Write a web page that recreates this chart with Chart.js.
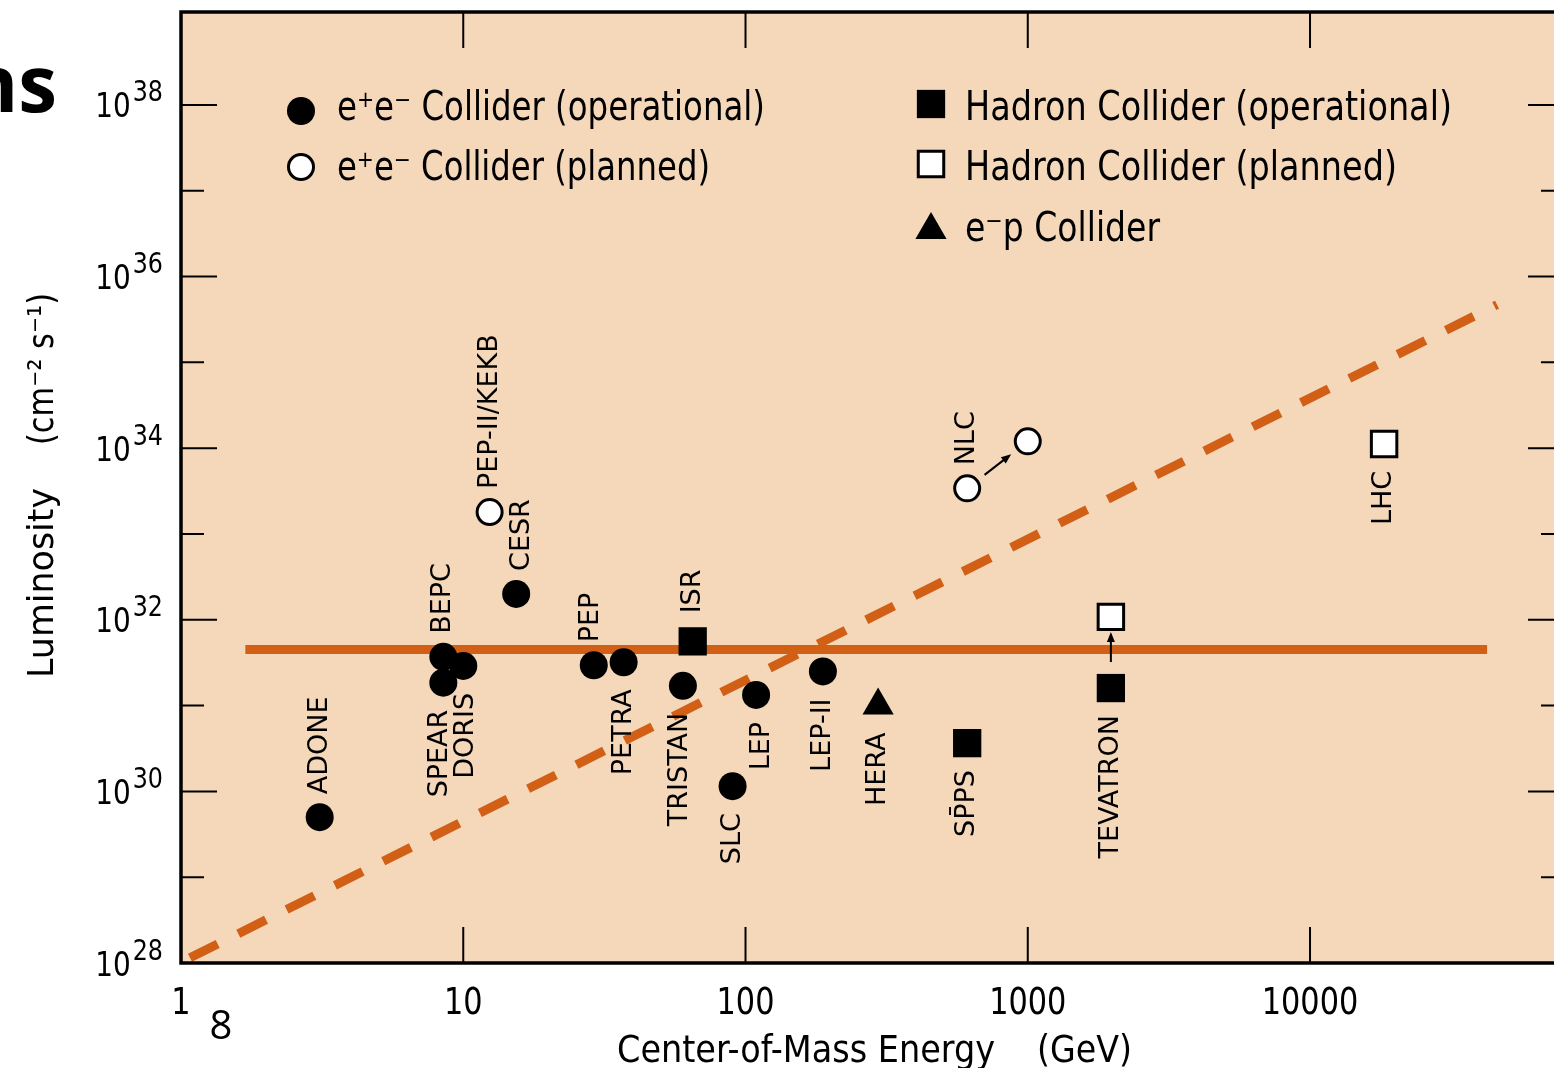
<!DOCTYPE html>
<html>
<head>
<meta charset="utf-8">
<title>Collider luminosity</title>
<script src="https://cdn.jsdelivr.net/npm/chart.js@4.4.0/dist/chart.umd.min.js"></script>
<style>
  html, body { margin: 0; padding: 0; background: #fff; overflow: hidden; }
  canvas { display: block; }
</style>
</head>
<body>
<canvas id="lumiChart" width="1580" height="1068"></canvas>
<script>
// ---- data (energy in GeV, luminosity in cm^-2 s^-1) ----
var eeOpNames  = ['ADONE', 'SPEAR', 'DORIS', 'BEPC', 'CESR', 'PEP', 'PETRA', 'TRISTAN', 'SLC', 'LEP', 'LEP-II'];
var eeOpEnergy = [3.1, 8.5, 10, 8.5, 15.4, 29, 37, 60, 90, 109, 188];
var eeOpLumi   = [5.0e29, 1.85e31, 2.9e31, 3.7e31, 2.0e32, 2.95e31, 3.2e31, 1.7e31, 1.15e30, 1.33e31, 2.5e31];

var eePlanNames  = ['PEP-II/KEKB', 'NLC', ''];
var eePlanEnergy = [12.4, 610, 1000];
var eePlanLumi   = [1.8e33, 3.4e33, 1.2e34];

var hadOpNames  = ['ISR', 'SP\u0304PS', 'TEVATRON'];
var hadOpEnergy = [65, 610, 1970];
var hadOpLumi   = [5.6e31, 3.65e30, 1.6e31];

var hadPlanNames  = ['', 'LHC'];
var hadPlanEnergy = [1970, 18300];
var hadPlanLumi   = [1.08e32, 1.12e34];

var epNames  = ['HERA'];
var epEnergy = [295];
var epLumi   = [1.0e31];

// the two orange guide lines
var flatEnergy  = [1.69, 42400];
var flatLumi    = [4.5e31, 4.5e31];
var trendEnergy = [1.076, 46000];
var trendLumi   = [1.15e28, 4.7e35];

var xTickValues = [1, 10, 100, 1000, 10000];
var xTickLabels = ['1', '10', '100', '1000', '10000'];
var yMajorExps  = [28, 30, 32, 34, 36, 38];
var yMinorExps  = [29, 31, 33, 35, 37];

// upgrade arrows: [fromDataset, fromIndex, toDataset, toIndex]
var upgradeArrows = [[1, 1, 1, 2], [2, 2, 3, 0]];

// label placement (above / below the marker)
var eeOpSide   = ['up', 'down', 'down', 'up', 'up', 'up', 'down', 'down', 'down', 'down', 'down'];
var eePlanSide = ['up', 'up', ''];
var hadOpSide  = ['up', 'down', 'down'];
var hadPlanSide = ['', 'down'];
var epSide     = ['down'];
var labelShift = { 'CESR': 6, 'LEP': 6, 'DORIS': 3, 'SPEAR': -3, 'PEP': -3, 'TRISTAN': -3 };

var PEACH = 'rgb(245, 215, 186)';
var ORANGE = 'rgb(209, 96, 22)';
var FONT = '"DejaVu Sans", "Liberation Sans", sans-serif';

function pts(xs, ys) {
  return xs.map(function(x, i) { return { x: x, y: ys[i] }; });
}

function fitText(ctx, text, x, y, size, width, align, weight) {
  ctx.font = (weight ? weight + ' ' : '') + size + 'px ' + FONT;
  var w = ctx.measureText(text).width;
  ctx.save();
  ctx.translate(x, y);
  ctx.scale(width / w, 1);
  ctx.textAlign = align || 'left';
  ctx.textBaseline = 'alphabetic';
  ctx.fillText(text, 0, 0);
  ctx.restore();
}

function arrow(ctx, x0, y0, x1, y1, gap0, gap1) {
  var dx = x1 - x0, dy = y1 - y0;
  var len = Math.sqrt(dx * dx + dy * dy);
  var ux = dx / len, uy = dy / len;
  var sx = x0 + ux * gap0, sy = y0 + uy * gap0;
  var ex = x1 - ux * gap1, ey = y1 - uy * gap1;
  var head = 10, hw = 4;
  ctx.lineWidth = 2;
  ctx.beginPath();
  ctx.moveTo(sx, sy);
  ctx.lineTo(ex - ux * head * 0.8, ey - uy * head * 0.8);
  ctx.stroke();
  ctx.beginPath();
  ctx.moveTo(ex, ey);
  ctx.lineTo(ex - ux * head - uy * hw, ey - uy * head + ux * hw);
  ctx.lineTo(ex - ux * head + uy * hw, ey - uy * head - ux * hw);
  ctx.closePath();
  ctx.fill();
}

var decorations = {
  id: 'decorations',
  beforeDatasetsDraw: function(chart) {
    var ctx = chart.ctx, a = chart.chartArea;
    ctx.save();
    ctx.fillStyle = PEACH;
    ctx.fillRect(a.left, a.top, a.right - a.left, a.bottom - a.top);
    ctx.restore();
  },
  afterDatasetsDraw: function(chart) {
    var ctx = chart.ctx, a = chart.chartArea;
    var xs = chart.scales.x, ys = chart.scales.y;
    ctx.save();
    ctx.fillStyle = '#000';
    ctx.strokeStyle = '#000';

    // point labels
    chart.data.datasets.forEach(function(ds, d) {
      if (!ds.pointNames) return;
      var meta = chart.getDatasetMeta(d);
      ds.pointNames.forEach(function(name, i) {
        if (!name) return;
        var p = meta.data[i];
        var up = ds.labelSide[i] === 'up';
        var gap = up ? 23 : 27;
        if (ds.pointStyle === 'rect' && up) gap += 5;
        ctx.save();
        ctx.translate(p.x + (labelShift[name] || 0), p.y + (up ? -gap : gap));
        ctx.rotate(-Math.PI / 2);
        ctx.font = '27px ' + FONT;
        ctx.textAlign = up ? 'left' : 'right';
        ctx.textBaseline = 'middle';
        ctx.fillText(name, 0, 0);
        ctx.restore();
      });
    });

    // upgrade arrows
    upgradeArrows.forEach(function(u) {
      var p0 = chart.getDatasetMeta(u[0]).data[u[1]];
      var p1 = chart.getDatasetMeta(u[2]).data[u[3]];
      var vertical = Math.abs(p0.x - p1.x) < 1;
      arrow(ctx, p0.x, p0.y, p1.x, p1.y, vertical ? 26 : 22, vertical ? 15 : 21);
    });

    // frame
    ctx.lineWidth = 3.5;
    ctx.beginPath();
    ctx.moveTo(a.right, a.top);
    ctx.lineTo(a.left, a.top);
    ctx.lineTo(a.left, a.bottom);
    ctx.lineTo(a.right, a.bottom);
    ctx.lineTo(a.right, a.top);
    ctx.stroke();

    // ticks (inward)
    ctx.lineWidth = 2;
    ctx.beginPath();
    xTickValues.forEach(function(v) {
      var x = xs.getPixelForValue(v);
      if (x <= a.left + 1) return;
      ctx.moveTo(x, a.bottom); ctx.lineTo(x, a.bottom - 36);
      ctx.moveTo(x, a.top); ctx.lineTo(x, a.top + 36);
    });
    yMajorExps.forEach(function(e) {
      var y = ys.getPixelForValue(Math.pow(10, e));
      ctx.moveTo(a.left, y); ctx.lineTo(a.left + 36, y);
      ctx.moveTo(a.right, y); ctx.lineTo(a.right - 36, y);
    });
    yMinorExps.forEach(function(e) {
      var y = ys.getPixelForValue(Math.pow(10, e));
      ctx.moveTo(a.left, y); ctx.lineTo(a.left + 23, y);
      ctx.moveTo(a.right, y); ctx.lineTo(a.right - 23, y);
    });
    ctx.stroke();

    // tick labels
    var sx = 0.82;
    xTickValues.forEach(function(v, i) {
      var x = xs.getPixelForValue(v);
      ctx.save();
      ctx.translate(x, a.bottom + 51);
      ctx.scale(sx, 1);
      ctx.font = '37px ' + FONT;
      ctx.textAlign = 'center';
      ctx.fillText(xTickLabels[i], 0, 0);
      ctx.restore();
    });
    yMajorExps.forEach(function(e) {
      var y = ys.getPixelForValue(Math.pow(10, e));
      ctx.font = '34px ' + FONT;
      var wBase = ctx.measureText('10').width * sx;
      ctx.font = '29px ' + FONT;
      var wSup = ctx.measureText(String(e)).width * sx;
      var right = a.left - 18;
      var left = right - wSup - wBase - 2;
      ctx.save();
      ctx.translate(left, y + 12.5);
      ctx.scale(sx, 1);
      ctx.font = '34px ' + FONT;
      ctx.textAlign = 'left';
      ctx.fillText('10', 0, 0);
      ctx.restore();
      ctx.save();
      ctx.translate(left + wBase + 2, y - 3.5);
      ctx.scale(sx, 1);
      ctx.font = '29px ' + FONT;
      ctx.textAlign = 'left';
      ctx.fillText(String(e), 0, 0);
      ctx.restore();
    });

    // axis titles
    fitText(ctx, 'Center-of-Mass Energy', 617, a.bottom + 99, 37, 378, 'left');
    fitText(ctx, '(GeV)', 1037, a.bottom + 99, 37, 95, 'left');
    ctx.save();
    ctx.translate(53, 678);
    ctx.rotate(-Math.PI / 2);
    fitText(ctx, 'Luminosity', 0, 0, 35, 190, 'left');
    fitText(ctx, '(cm\u207B\u00B2 s\u207B\u00B9)', 233, 0, 35, 152, 'left');
    ctx.restore();

    // legend drawn from the dataset styles
    var legendRows = [
      { d: 0, x: 301, y: 111, tx: 337, ty: 120, w: 428 },
      { d: 1, x: 301, y: 167, tx: 337, ty: 180, w: 373 },
      { d: 2, x: 931, y: 104, tx: 965, ty: 120, w: 487 },
      { d: 3, x: 931, y: 164, tx: 965, ty: 180, w: 432 },
      { d: 4, x: 931, y: 230, tx: 965, ty: 241, w: 195 }
    ];
    legendRows.forEach(function(r) {
      var ds = chart.data.datasets[r.d];
      ctx.fillStyle = ds.backgroundColor;
      ctx.strokeStyle = '#000';
      ctx.lineWidth = ds.borderWidth;
      Chart.helpers.drawPoint(ctx, {
        pointStyle: ds.pointStyle, radius: ds.pointRadius, rotation: 0, borderWidth: ds.borderWidth
      }, r.x, r.y);
      ctx.fillStyle = '#000';
      fitText(ctx, ds.label, r.tx, r.ty, 40, r.w, 'left');
    });

    ctx.restore();
  },
  afterDraw: function(chart) {
    var ctx = chart.ctx;
    ctx.save();
    ctx.fillStyle = '#000';
    ctx.font = 'bold 78px "Open Sans", "Noto Sans", sans-serif';
    ctx.textAlign = 'right';
    ctx.fillText('ns', 57, 112);
    ctx.font = '40px "Open Sans", "Noto Sans", sans-serif';
    ctx.textAlign = 'center';
    ctx.fillText('8', 221, 1039);
    ctx.restore();
  }
};

var ctx = document.getElementById('lumiChart');
var lumiChart = new Chart(ctx, {
  type: 'scatter',
  data: {
    datasets: [
      { label: 'e\u207Ae\u207B Collider (operational)', data: pts(eeOpEnergy, eeOpLumi),
        pointNames: eeOpNames, labelSide: eeOpSide,
        pointStyle: 'circle', pointRadius: 14, backgroundColor: '#000', borderColor: '#000', borderWidth: 0 },
      { label: 'e\u207Ae\u207B Collider (planned)', data: pts(eePlanEnergy, eePlanLumi),
        pointNames: eePlanNames, labelSide: eePlanSide,
        pointStyle: 'circle', pointRadius: 12.5, backgroundColor: '#fff', borderColor: '#000', borderWidth: 3 },
      { label: 'Hadron Collider (operational)', data: pts(hadOpEnergy, hadOpLumi),
        pointNames: hadOpNames, labelSide: hadOpSide,
        pointStyle: 'rect', pointRadius: 20, backgroundColor: '#000', borderColor: '#000', borderWidth: 0 },
      { label: 'Hadron Collider (planned)', data: pts(hadPlanEnergy, hadPlanLumi),
        pointNames: hadPlanNames, labelSide: hadPlanSide,
        pointStyle: 'rect', pointRadius: 18, backgroundColor: '#fff', borderColor: '#000', borderWidth: 3 },
      { label: 'e\u207Bp Collider', data: pts(epEnergy, epLumi),
        pointNames: epNames, labelSide: epSide,
        pointStyle: 'triangle', pointRadius: 18, backgroundColor: '#000', borderColor: '#000', borderWidth: 0 },
      { label: 'flat', data: pts(flatEnergy, flatLumi), showLine: true, pointRadius: 0,
        borderColor: ORANGE, borderWidth: 9, borderCapStyle: 'butt' },
      { label: 'trend', data: pts(trendEnergy, trendLumi), showLine: true, pointRadius: 0,
        borderColor: ORANGE, borderWidth: 9, borderDash: [31, 23], borderCapStyle: 'butt' }
    ]
  },
  options: {
    responsive: false,
    animation: false,
    events: [],
    layout: { autoPadding: false, padding: { left: 181, top: 12, right: 16, bottom: 105 } },
    scales: {
      x: { type: 'logarithmic', min: 1, max: 79400, display: false },
      y: { type: 'logarithmic', min: 1e28, max: 1.21e39, display: false }
    },
    plugins: {
      legend: { display: false },
      tooltip: { enabled: false }
    }
  },
  plugins: [decorations]
});
</script>
</body>
</html>
